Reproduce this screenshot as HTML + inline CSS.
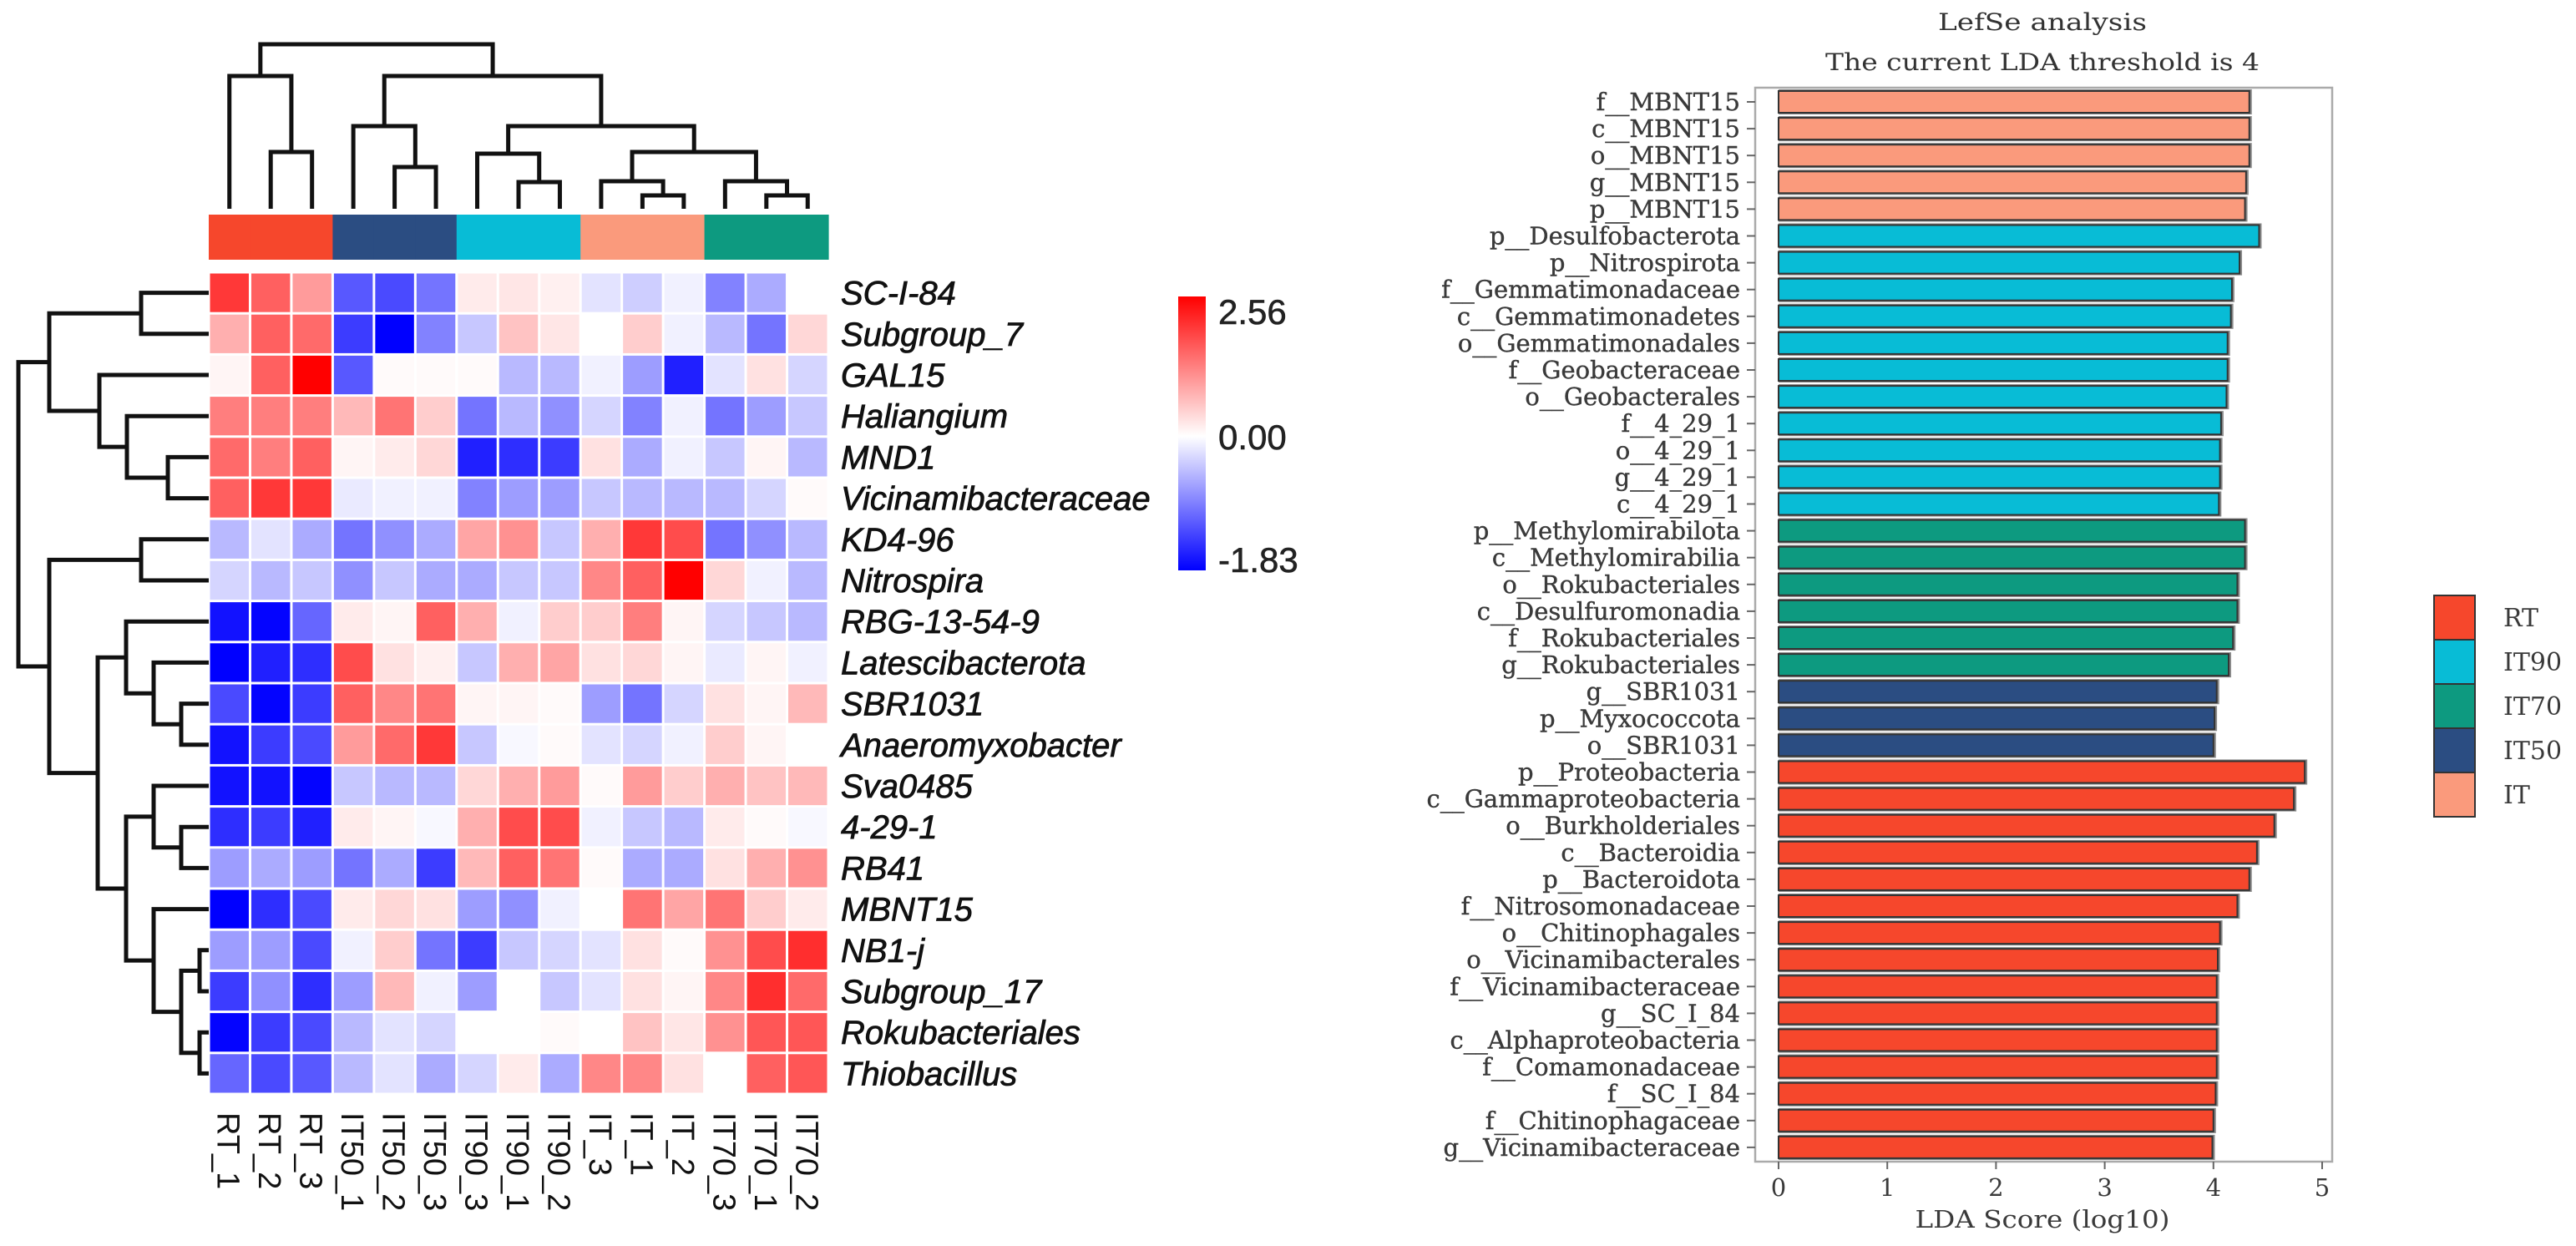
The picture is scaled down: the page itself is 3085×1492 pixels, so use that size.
<!DOCTYPE html>
<html><head><meta charset="utf-8"><style>
html,body{margin:0;padding:0;background:#fff;}
svg{display:block;}
</style></head><body>
<svg id="fig" xmlns="http://www.w3.org/2000/svg" width="3085" height="1492" viewBox="0 0 3085 1492">
<defs>
<linearGradient id="cbg" x1="0" y1="0" x2="0" y2="1">
<stop offset="0" stop-color="#ff0000"/><stop offset="0.51" stop-color="#ffffff"/><stop offset="1" stop-color="#0000ff"/>
</linearGradient>
</defs>
<g id="heat"></g>
<g id="lefse"></g>
</svg>
<script>
// ---------- Heatmap data ----------
const heatRows = ["SC-I-84","Subgroup_7","GAL15","Haliangium","MND1","Vicinamibacteraceae","KD4-96","Nitrospira","RBG-13-54-9","Latescibacterota","SBR1031","Anaeromyxobacter","Sva0485","4-29-1","RB41","MBNT15","NB1-j","Subgroup_17","Rokubacteriales","Thiobacillus"];
const heatCols = ["RT_1","RT_2","RT_3","IT50_1","IT50_2","IT50_3","IT90_3","IT90_1","IT90_2","IT_3","IT_1","IT_2","IT70_3","IT70_1","IT70_2"];
const heatGroups = ["RT","RT","RT","IT50","IT50","IT50","IT90","IT90","IT90","IT","IT","IT","IT70","IT70","IT70"];
const heatValues = [
[2.0,1.6,1.0,-1.2,-1.3,-1.0,0.2,0.25,0.15,-0.2,-0.35,-0.1,-0.9,-0.6,0.0],
[0.8,1.6,1.5,-1.4,-1.83,-0.9,-0.4,0.6,0.25,0.0,0.5,-0.1,-0.5,-1.0,0.4],
[0.1,1.6,2.56,-1.2,0.05,0.05,0.05,-0.5,-0.5,-0.1,-0.7,-1.6,-0.2,0.3,-0.3],
[1.3,1.3,1.3,0.7,1.4,0.5,-1.0,-0.5,-0.8,-0.3,-0.9,-0.1,-1.0,-0.7,-0.4],
[1.5,1.3,1.6,0.1,0.2,0.4,-1.6,-1.5,-1.4,0.3,-0.6,-0.1,-0.4,0.1,-0.5],
[1.6,2.0,2.0,-0.15,-0.1,-0.1,-0.9,-0.7,-0.7,-0.4,-0.5,-0.5,-0.5,-0.3,0.05],
[-0.5,-0.2,-0.6,-1.0,-0.8,-0.6,0.9,1.1,-0.4,0.8,2.0,1.8,-1.0,-0.8,-0.5],
[-0.3,-0.5,-0.4,-0.8,-0.4,-0.6,-0.6,-0.4,-0.4,1.2,1.6,2.56,0.4,-0.1,-0.5],
[-1.7,-1.8,-1.1,0.2,0.1,1.6,0.8,-0.1,0.5,0.5,1.3,0.1,-0.3,-0.4,-0.5],
[-1.83,-1.6,-1.5,1.8,0.3,0.15,-0.4,0.8,0.9,0.3,0.4,0.1,-0.15,0.1,-0.1],
[-1.3,-1.8,-1.4,1.6,1.2,1.4,0.1,0.1,0.05,-0.7,-1.0,-0.3,0.3,0.1,0.7],
[-1.7,-1.4,-1.3,1.0,1.5,2.0,-0.4,-0.05,0.05,-0.2,-0.3,-0.1,0.5,0.1,0.0],
[-1.7,-1.7,-1.8,-0.4,-0.5,-0.5,0.4,0.8,1.0,0.05,1.0,0.5,0.8,0.6,0.7],
[-1.5,-1.4,-1.6,0.2,0.1,-0.05,0.8,1.8,1.8,-0.1,-0.4,-0.5,0.2,0.05,-0.05],
[-0.7,-0.6,-0.7,-1.0,-0.6,-1.4,0.7,1.6,1.4,0.05,-0.6,-0.6,0.3,0.8,1.1],
[-1.83,-1.5,-1.3,0.2,0.4,0.3,-0.7,-0.8,-0.1,0.0,1.4,0.9,1.4,0.5,0.2],
[-0.7,-0.7,-1.3,-0.1,0.5,-1.0,-1.4,-0.4,-0.3,-0.2,0.3,0.05,1.1,1.8,2.1],
[-1.4,-0.8,-1.5,-0.7,0.7,-0.1,-0.7,0.0,-0.4,-0.2,0.3,0.1,1.2,2.1,1.5],
[-1.8,-1.4,-1.3,-0.5,-0.2,-0.3,0.0,0.0,0.05,0.0,0.6,0.25,1.1,1.7,1.7],
[-1.1,-1.3,-1.2,-0.5,-0.2,-0.6,-0.3,0.2,-0.6,1.2,1.2,0.3,0.0,1.6,1.7]
];
const colorbarTicks = ["2.56","0.00","-1.83"];

// ---------- LefSe data ----------
const lefseLabels = ["f__MBNT15","c__MBNT15","o__MBNT15","g__MBNT15","p__MBNT15",
"p__Desulfobacterota","p__Nitrospirota","f__Gemmatimonadaceae","c__Gemmatimonadetes","o__Gemmatimonadales","f__Geobacteraceae","o__Geobacterales","f__4_29_1","o__4_29_1","g__4_29_1","c__4_29_1",
"p__Methylomirabilota","c__Methylomirabilia","o__Rokubacteriales","c__Desulfuromonadia","f__Rokubacteriales","g__Rokubacteriales",
"g__SBR1031","p__Myxococcota","o__SBR1031",
"p__Proteobacteria","c__Gammaproteobacteria","o__Burkholderiales","c__Bacteroidia","p__Bacteroidota","f__Nitrosomonadaceae","o__Chitinophagales","o__Vicinamibacterales","f__Vicinamibacteraceae","g__SC_I_84","c__Alphaproteobacteria","f__Comamonadaceae","f__SC_I_84","f__Chitinophagaceae","g__Vicinamibacteraceae"];
const lefseScores = [4.33,4.33,4.33,4.30,4.29,
4.42,4.24,4.17,4.16,4.13,4.13,4.12,4.07,4.06,4.06,4.05,
4.29,4.29,4.22,4.22,4.18,4.14,
4.03,4.01,4.00,
4.84,4.74,4.56,4.40,4.33,4.22,4.06,4.04,4.03,4.03,4.03,4.03,4.02,4.00,3.99];
const lefseGroups = ["IT","IT","IT","IT","IT",
"IT90","IT90","IT90","IT90","IT90","IT90","IT90","IT90","IT90","IT90","IT90",
"IT70","IT70","IT70","IT70","IT70","IT70",
"IT50","IT50","IT50",
"RT","RT","RT","RT","RT","RT","RT","RT","RT","RT","RT","RT","RT","RT","RT"];
const xTicks = [0,1,2,3,4,5];
const legendGroups = ["RT","IT90","IT70","IT50","IT"];

const groupColor = {RT:"#f6472c",IT90:"#08bcd6",IT70:"#0d9a80",IT50:"#2b4d82",IT:"#fa9a7c"};
const NS = "http://www.w3.org/2000/svg";
function mk(parent, tag, attrs, text){
  const e = document.createElementNS(NS, tag);
  for (const k in attrs) e.setAttribute(k, attrs[k]);
  if (text !== undefined) e.textContent = text;
  parent.appendChild(e); return e;
}

// ---------- Heatmap ----------
const heat = document.getElementById('heat');
const hx0 = 250, hx1 = 992, hy0 = 326, hy1 = 1310;
const cw = (hx1-hx0)/heatCols.length, ch = (hy1-hy0)/heatRows.length;
const vmin = -1.83, vmax = 2.56;
function colX(i){ return hx0 + i*cw; }
function rowY(i){ return hy0 + i*ch; }
function heatColor(v){
  let r,g,b;
  if (v>=0){ const t=Math.min(1,v/vmax); r=255; g=Math.round(255*(1-t)); b=g; }
  else { const t=Math.min(1,v/vmin); b=255; r=Math.round(255*(1-t)); g=r; }
  return `rgb(${r},${g},${b})`;
}
heatGroups.forEach((g,i)=>{
  const r = mk(heat,'rect',{x:colX(i),y:257,width:cw+0.6,height:54,fill:groupColor[g]});
  
  
});
heatValues.forEach((row,ri)=>{
  row.forEach((v,ci)=>{
    const r = mk(heat,'rect',{x:colX(ci)+1.5,y:rowY(ri)+1.5,width:cw-3,height:ch-3,fill:heatColor(v)});
    
    
  });
});
heatRows.forEach((n,i)=>{
  const t = mk(heat,'text',{x:1007,y:rowY(i)+ch/2+14,'font-family':'Liberation Sans, sans-serif','font-size':40,'font-style':'italic','fill':'#111',stroke:'#111','stroke-width':0.8},n);
  
  
});
heatCols.forEach((n,i)=>{
  const cx = colX(i)+cw/2;
  const t = mk(heat,'text',{x:0,y:0,transform:`translate(${cx-14},1332) rotate(90)`,'font-family':'Liberation Sans, sans-serif','font-size':38,'fill':'#111'},n);
  
  
});
const colTree = {h:53,c:[{h:91,c:[0,{h:182,c:[1,2]}]},{h:91,c:[{h:151,c:[3,{h:200,c:[4,5]}]},{h:151,c:[{h:184,c:[6,{h:218,c:[7,8]}]},{h:182,c:[{h:217,c:[9,{h:234,c:[10,11]}]},{h:217,c:[12,{h:234,c:[13,14]}]}]}]}]}]};
const rowTree = {h:22,c:[{h:59,c:[{h:169,c:[0,1]},{h:119,c:[2,{h:152,c:[3,{h:201,c:[4,5]}]}]}]},{h:59,c:[{h:169,c:[6,7]},{h:117,c:[{h:151,c:[8,{h:184,c:[9,{h:217,c:[10,11]}]}]},{h:151,c:[{h:184,c:[12,{h:217,c:[13,14]}]},{h:184,c:[15,{h:217,c:[{h:239,c:[16,17]},{h:239,c:[18,19]}]}]}]}]}]}]};
let dpath='';
function drawCol(n){
  if (typeof n==='number') return [colX(n)+cw/2, 250];
  const a=drawCol(n.c[0]), b=drawCol(n.c[1]);
  dpath += `M${a[0]},${a[1]}V${n.h}H${b[0]}V${b[1]}`;
  return [(a[0]+b[0])/2, n.h];
}
function drawRow(n){
  if (typeof n==='number') return [rowY(n)+ch/2, 250];
  const a=drawRow(n.c[0]), b=drawRow(n.c[1]);
  dpath += `M${a[1]},${a[0]}H${n.h}V${b[0]}H${b[1]}`;
  return [(a[0]+b[0])/2, n.h];
}
drawCol(colTree);
const dc = mk(heat,'path',{d:dpath,fill:'none',stroke:'#111','stroke-width':5});


dpath=''; drawRow(rowTree);
const dr = mk(heat,'path',{d:dpath,fill:'none',stroke:'#111','stroke-width':5});


const cbTop=355, cbBot=683;
const cb = mk(heat,'rect',{x:1411,y:cbTop,width:33,height:cbBot-cbTop,fill:'url(#cbg)'});


const cbY=[373,523,670];
colorbarTicks.forEach((t,i)=>{
  const e = mk(heat,'text',{x:1459,y:cbY[i]+15,'font-family':'Liberation Sans, sans-serif','font-size':42,'fill':'#222',stroke:'#222','stroke-width':0.6},t);
  
  
});

// ---------- LefSe ----------
const lf = document.getElementById('lefse');
const px0=2130, unit=130.2, firstC=122, pitch=32.1, bh=26;
function xs(v){ return px0 + v*unit; }
function ys(i){ return firstC + i*pitch; }
const serif = 'DejaVu Serif, Liberation Serif, serif';
const t1 = mk(lf,'text',{x:2446,y:36,'text-anchor':'middle','font-family':serif,'font-size':28,'fill':'#333',textLength:250,lengthAdjust:'spacingAndGlyphs'},'LefSe analysis');


const t2 = mk(lf,'text',{x:2446,y:84,'text-anchor':'middle','font-family':serif,'font-size':28,'fill':'#333',textLength:520,lengthAdjust:'spacingAndGlyphs'},'The current LDA threshold is 4');


const frame = mk(lf,'rect',{x:2102,y:105,width:691,height:1286,fill:'#fff',stroke:'#aaa','stroke-width':2.5});


lefseScores.forEach((v,i)=>{
  const y=ys(i);
  const sh = mk(lf,'rect',{x:xs(0),y:y-pitch/2+1,width:xs(v)-xs(0)+3,height:pitch-2,fill:'#8a8a8a'});
  
  
  const b = mk(lf,'rect',{x:xs(0),y:y-bh/2,width:xs(v)-xs(0),height:bh,fill:groupColor[lefseGroups[i]],stroke:'#333','stroke-width':2});
  
  
  const tk = mk(lf,'line',{x1:2092,x2:2102,y1:y,y2:y,stroke:'#666','stroke-width':2});
  
  
  const l = mk(lf,'text',{x:2084,y:y+10,'text-anchor':'end','font-family':serif,'font-size':29,'fill':'#3a3a3a',stroke:'#3a3a3a','stroke-width':0.4},lefseLabels[i]);
  
  
});
xTicks.forEach(t=>{
  const tk = mk(lf,'line',{x1:xs(t),x2:xs(t),y1:1391,y2:1400,stroke:'#666','stroke-width':2});
  
  
  const l = mk(lf,'text',{x:xs(t),y:1432,'text-anchor':'middle','font-family':serif,'font-size':29,'fill':'#3a3a3a'},String(t));
  
  
});
const xt = mk(lf,'text',{x:2446,y:1470,'text-anchor':'middle','font-family':serif,'font-size':29,'fill':'#3a3a3a',textLength:305,lengthAdjust:'spacingAndGlyphs'},'LDA Score (log10)');


legendGroups.forEach((g,i)=>{
  const y=713+i*53;
  const r = mk(lf,'rect',{x:2915,y:y,width:49,height:53,fill:groupColor[g],stroke:'#333','stroke-width':2});
  
  
  const l = mk(lf,'text',{x:2998,y:y+37,'font-family':serif,'font-size':30,'fill':'#3a3a3a'},g);
  
  
});
</script>
</body></html>
